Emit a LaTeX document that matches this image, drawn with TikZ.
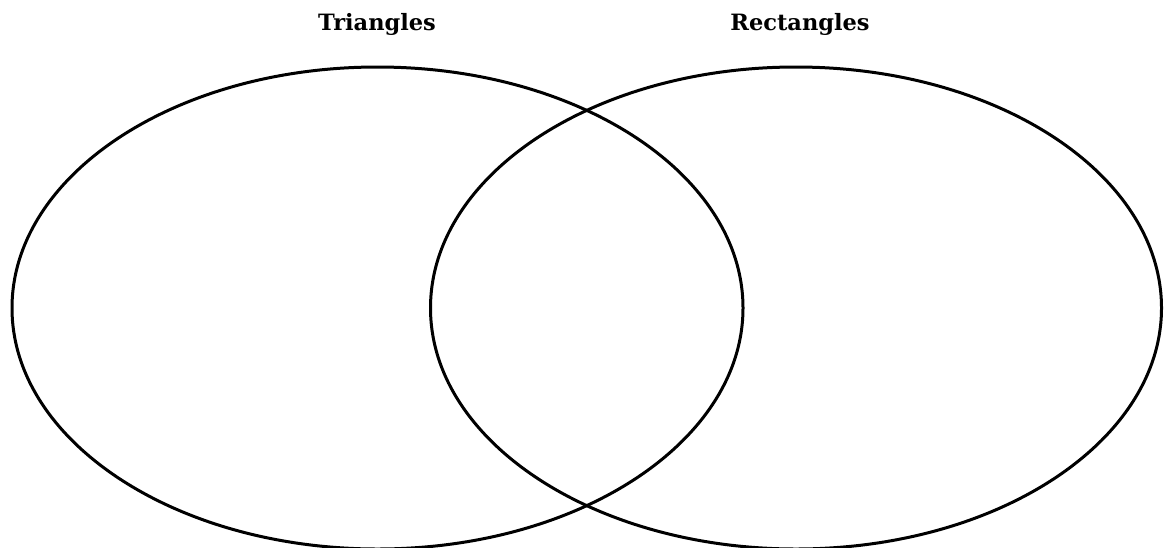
\documentclass[tikz,border=0pt]{standalone}
\usepackage{fontspec}
\usetikzlibrary{shapes.geometric}
\newfontfamily\labelfont{DejaVu Serif}
\begin{document}
\begin{tikzpicture}[x=1pt,y=-1pt,
  setline/.style={line width=3pt, black},
  setlabel/.style={font=\labelfont\bfseries\fontsize{22.5}{26}\selectfont, anchor=base, inner sep=0pt}]
\useasboundingbox (0,0) rectangle (1164,547);
\clip (0,0) rectangle (1164,547);
\node[setline, draw, ellipse, minimum width=731pt, minimum height=482pt, inner sep=0pt] (tri) at (377.5,308) {};
\node[setline, draw, ellipse, minimum width=731pt, minimum height=482pt, inner sep=0pt] (rect) at (796,308) {};
\node[setlabel] (tl) at (377,30) {Triangles};
\node[setlabel] (rl) at (800,30) {Rectangles};
\end{tikzpicture}
\end{document}
